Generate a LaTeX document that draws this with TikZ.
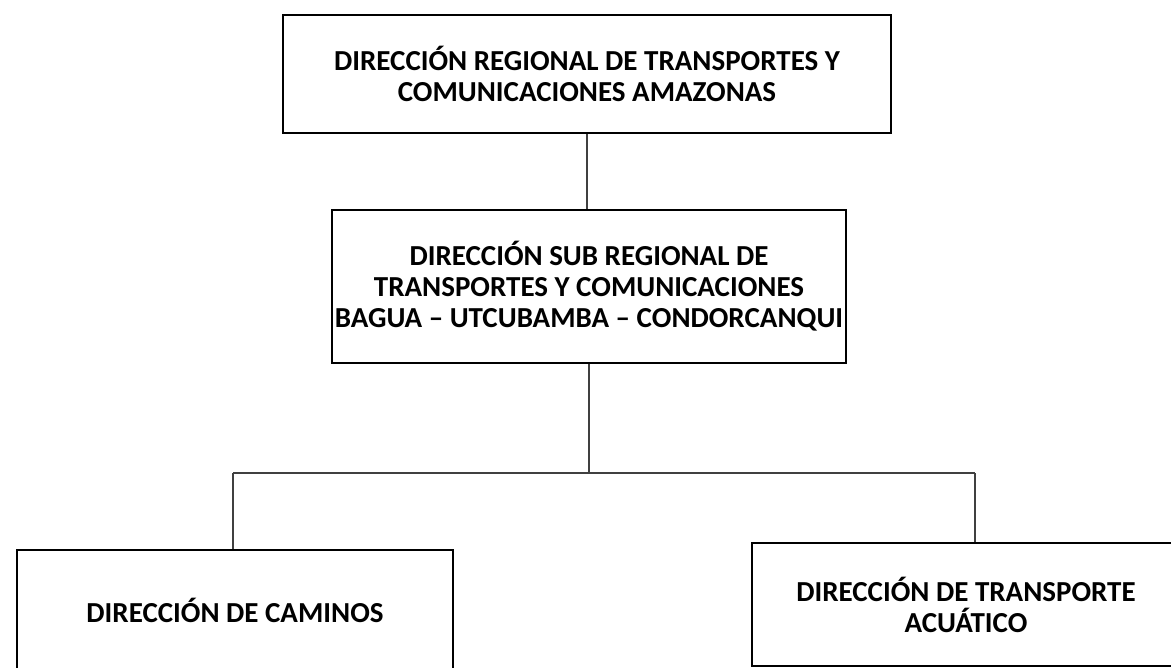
\documentclass[tikz,border=0pt]{standalone}
\usepackage{fontspec}
\setmainfont{Carlito}
\usetikzlibrary{calc,positioning}

\begin{document}
\begin{tikzpicture}[x=0.5pt,y=-0.5pt]
	\tikzstyle{every node}=[font=\fontsize{14.5}{15.5}\selectfont\bfseries]
	\tikzstyle{box}=[draw,line width=1.3pt,align=center,inner sep=0pt]
	\tikzstyle{conn}=[draw,line width=0.65pt,black!75]

	\clip (0,0) rectangle (1171,668);

	\node[box,minimum width=304pt,minimum height=59pt] (DRTC) at (587,74)
		{DIRECCIÓN REGIONAL DE TRANSPORTES Y\\COMUNICACIONES AMAZONAS};
	\node[box,minimum width=257pt,minimum height=76.5pt] (DSR) at (589,286.5)
		{DIRECCIÓN SUB REGIONAL DE\\TRANSPORTES Y COMUNICACIONES\\BAGUA – UTCUBAMBA – CONDORCANQUI};
	\node[box,minimum width=218pt,minimum height=60pt] (DC) at (235,610)
		{DIRECCIÓN DE CAMINOS};
	\node[box,minimum width=214pt,minimum height=61.5pt] (DTA) at (966,604.5)
		{DIRECCIÓN DE TRANSPORTE\\ACUÁTICO};

	% bus line
	\coordinate (bus) at (DSR.south |- 0,473);
	\coordinate (lft) at (233,473);
	\coordinate (rgt) at (975,473);

	\draw[conn] (DRTC.south) -- (DRTC.south |- DSR.north);
	\draw[conn] (DSR.south) -- (bus);
	\draw[conn] (lft) -- (rgt);
	\draw[conn] (lft) -- (lft |- DC.north);
	\draw[conn] (rgt) -- (rgt |- DTA.north);
\end{tikzpicture}
\end{document}
